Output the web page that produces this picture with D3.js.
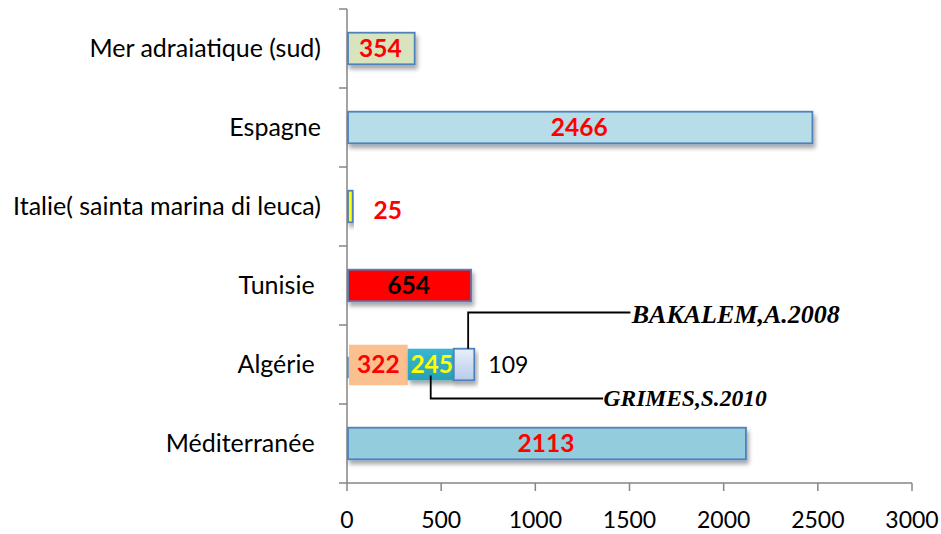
<!DOCTYPE html>
<html>
<head>
<meta charset="utf-8">
<script src="https://cdn.jsdelivr.net/npm/d3@7/dist/d3.min.js"></script>
<style>
  html, body { margin: 0; padding: 0; background: #fff; }
  svg { display: block; }
  text { white-space: pre; }
</style>
</head>
<body>
<svg id="chart" width="941" height="534"></svg>
<script>
// ---- Data ----
const categories = ["Méditerranée ", "Algérie ", "Tunisie ", "Italie( sainta marina di leuca)", "Espagne", "Mer adraiatique (sud)"];
const values = [2113, null, 654, 25, 2466, 354];
const valueLabels = ["2113", null, "654", "25", "2466", "354"];
const algerieParts = [322, 245, 109];
const algerieLabels = ["322", "245", "109"];
const sources = ["GRIMES,S.2010", "BAKALEM,A.2008"];
const xTicks = [0, 500, 1000, 1500, 2000, 2500, 3000];

// ---- Styles ----
const fills = ["#93CDDD", null, "#FF0000", "#FFFF00", "#B7DDE8", "#D7E4BD"];
const labelColors = ["#FF0000", null, "#000000", "#FF0000", "#FF0000", "#FF0000"];
const partFills = ["#FAC090", "url(#gTeal)", "url(#gLight)"];
const partLabelColors = ["#FF0000", "#FFFF00", "#000000"];
const strokeBlue = "#4F81BD";
const axisGrey = "#868686";

const svg = d3.select("#chart");
const defs = svg.append("defs");
const f = defs.append("filter").attr("id", "shadow").attr("x", "-10%").attr("y", "-30%").attr("width", "130%").attr("height", "180%");
f.append("feDropShadow").attr("dx", 2).attr("dy", 4).attr("stdDeviation", 2.2).attr("flood-color", "#000").attr("flood-opacity", 0.35);

const gT = defs.append("linearGradient").attr("id", "gTeal").attr("x1", 0).attr("y1", 0).attr("x2", 0).attr("y2", 1);
gT.append("stop").attr("offset", "0%").attr("stop-color", "#38B6D0");
gT.append("stop").attr("offset", "100%").attr("stop-color", "#2A9FB8");
const gL = defs.append("linearGradient").attr("id", "gLight").attr("x1", 0).attr("y1", 0).attr("x2", 0).attr("y2", 1);
gL.append("stop").attr("offset", "0%").attr("stop-color", "#E8EFF9");
gL.append("stop").attr("offset", "100%").attr("stop-color", "#B7CCEB");

const x = d3.scaleLinear().domain([0, 3000]).range([347, 912]);
const y = d3.scaleBand().domain(d3.range(categories.length).reverse()).range([9, 483]).paddingInner(0.6).paddingOuter(0.3);
const step = y.step();
const bw = y.bandwidth();

// ---- Axes ----
const ax = svg.append("g").attr("stroke", axisGrey).attr("stroke-width", 1.5).attr("fill", "none");
ax.append("line").attr("x1", x(0)).attr("x2", x(0)).attr("y1", 9).attr("y2", 483);
ax.append("line").attr("x1", x(0)).attr("x2", x(3000)).attr("y1", 483).attr("y2", 483);
d3.range(categories.length + 1).forEach(k => {
  const yy = 9 + k * step;
  ax.append("line").attr("x1", x(0) - 8).attr("x2", x(0)).attr("y1", yy).attr("y2", yy);
});
xTicks.forEach(t => {
  ax.append("line").attr("x1", x(t)).attr("x2", x(t)).attr("y1", 483).attr("y2", 491);
});

svg.append("g").selectAll("text").data(xTicks).join("text")
  .attr("x", d => x(d)).attr("y", 520).attr("dy", "0.35em")
  .attr("text-anchor", "middle")
  .attr("font-family", "Lato, sans-serif").attr("font-size", 23).attr("fill", "#000")
  .text(d => d);

svg.append("g").selectAll("text").data(categories).join("text")
  .attr("x", 321).attr("y", (d, i) => y(i) + bw / 2).attr("dy", "0.35em")
  .attr("text-anchor", "end")
  .attr("font-family", "Lato, sans-serif").attr("font-size", 25).attr("fill", "#000")
  .text(d => d);

// ---- Simple bars ----
const simple = values.map((v, i) => ({ v, i })).filter(d => d.v !== null);
svg.append("g").selectAll("rect").data(simple).join("rect")
  .attr("x", x(0) + 1).attr("y", d => y(d.i))
  .attr("width", d => x(d.v) - x(0)).attr("height", bw)
  .attr("fill", d => fills[d.i]).attr("stroke", strokeBlue).attr("stroke-width", 1.8)
  .attr("filter", "url(#shadow)");

svg.append("g").selectAll("text").data(simple).join("text")
  .attr("x", d => d.v < 100 ? x(d.v) + 36 : (x(0) + x(d.v)) / 2)
  .attr("y", d => y(d.i) + bw / 2 + (d.v < 100 ? 4 : 0)).attr("dy", "0.36em")
  .attr("text-anchor", "middle")
  .attr("font-family", "Lato, sans-serif").attr("font-weight", "bold").attr("font-size", 24.5)
  .attr("fill", d => labelColors[d.i])
  .text(d => valueLabels[d.i]);

// ---- Algérie stacked ----
const ai = 1;
let acc = 0;
const parts = algerieParts.map((v, k) => { const p = { v, k, x0: acc, x1: acc + v }; acc += v; return p; });
const ag = svg.append("g");
ag.append("line").attr("x1", x(0) + 1).attr("x2", x(0) + 1).attr("y1", y(ai) + 8).attr("y2", y(ai) + bw - 2)
  .attr("stroke", strokeBlue).attr("stroke-width", 1.5);
parts.forEach(p => {
  const tall = p.k === 0;
  const x0 = p.k === 0 ? x(p.x0) + 2 : x(p.x0);
  ag.append("rect")
    .attr("x", x0).attr("y", tall ? y(ai) - 4 : y(ai))
    .attr("width", x(p.x1) - x0).attr("height", tall ? bw + 9 : bw)
    .attr("fill", partFills[p.k])
    .attr("stroke", p.k === 2 ? strokeBlue : "none").attr("stroke-width", 1.8)
    .attr("filter", p.k === 0 ? null : "url(#shadow)");
});
const cy = y(ai) + bw / 2;
const gx = x(parts[1].x0 + parts[1].v / 2);
const bx = x(parts[2].x0 + parts[2].v * 0.7);
const conn = svg.append("g").attr("stroke", "#000").attr("stroke-width", 1.8).attr("fill", "none");
conn.append("polyline").attr("points", `${gx},${cy + 11} ${gx},${cy + 34} ${x(1360)},${cy + 34}`);
conn.append("polyline").attr("points", `${bx},${y(ai)} ${bx},${cy - 52} ${x(1505)},${cy - 52}`);

parts.slice(0, 2).forEach(p => {
  ag.append("text")
    .attr("x", (x(p.x0) + x(p.x1)) / 2 + 1).attr("y", cy).attr("dy", "0.36em")
    .attr("text-anchor", "middle")
    .attr("font-family", "Lato, sans-serif").attr("font-weight", "bold").attr("font-size", 24.5)
    .attr("fill", partLabelColors[p.k]).text(algerieLabels[p.k]);
});
ag.append("text")
  .attr("x", x(acc) + 14).attr("y", cy).attr("dy", "0.36em")
  .attr("font-family", "Lato, sans-serif").attr("font-size", 23)
  .attr("fill", partLabelColors[2]).text(algerieLabels[2]);

svg.append("text").attr("x", x(1362)).attr("y", cy + 34).attr("dy", "0.33em")
  .attr("font-family", "'Liberation Serif', serif").attr("font-style", "italic").attr("font-weight", "bold")
  .attr("font-size", 23.5).attr("fill", "#000").text(sources[0]);
svg.append("text").attr("x", x(1512)).attr("y", cy - 50).attr("dy", "0.33em")
  .attr("font-family", "'Liberation Serif', serif").attr("font-style", "italic").attr("font-weight", "bold")
  .attr("font-size", 26).attr("fill", "#000").text(sources[1]);
</script>
</body>
</html>
